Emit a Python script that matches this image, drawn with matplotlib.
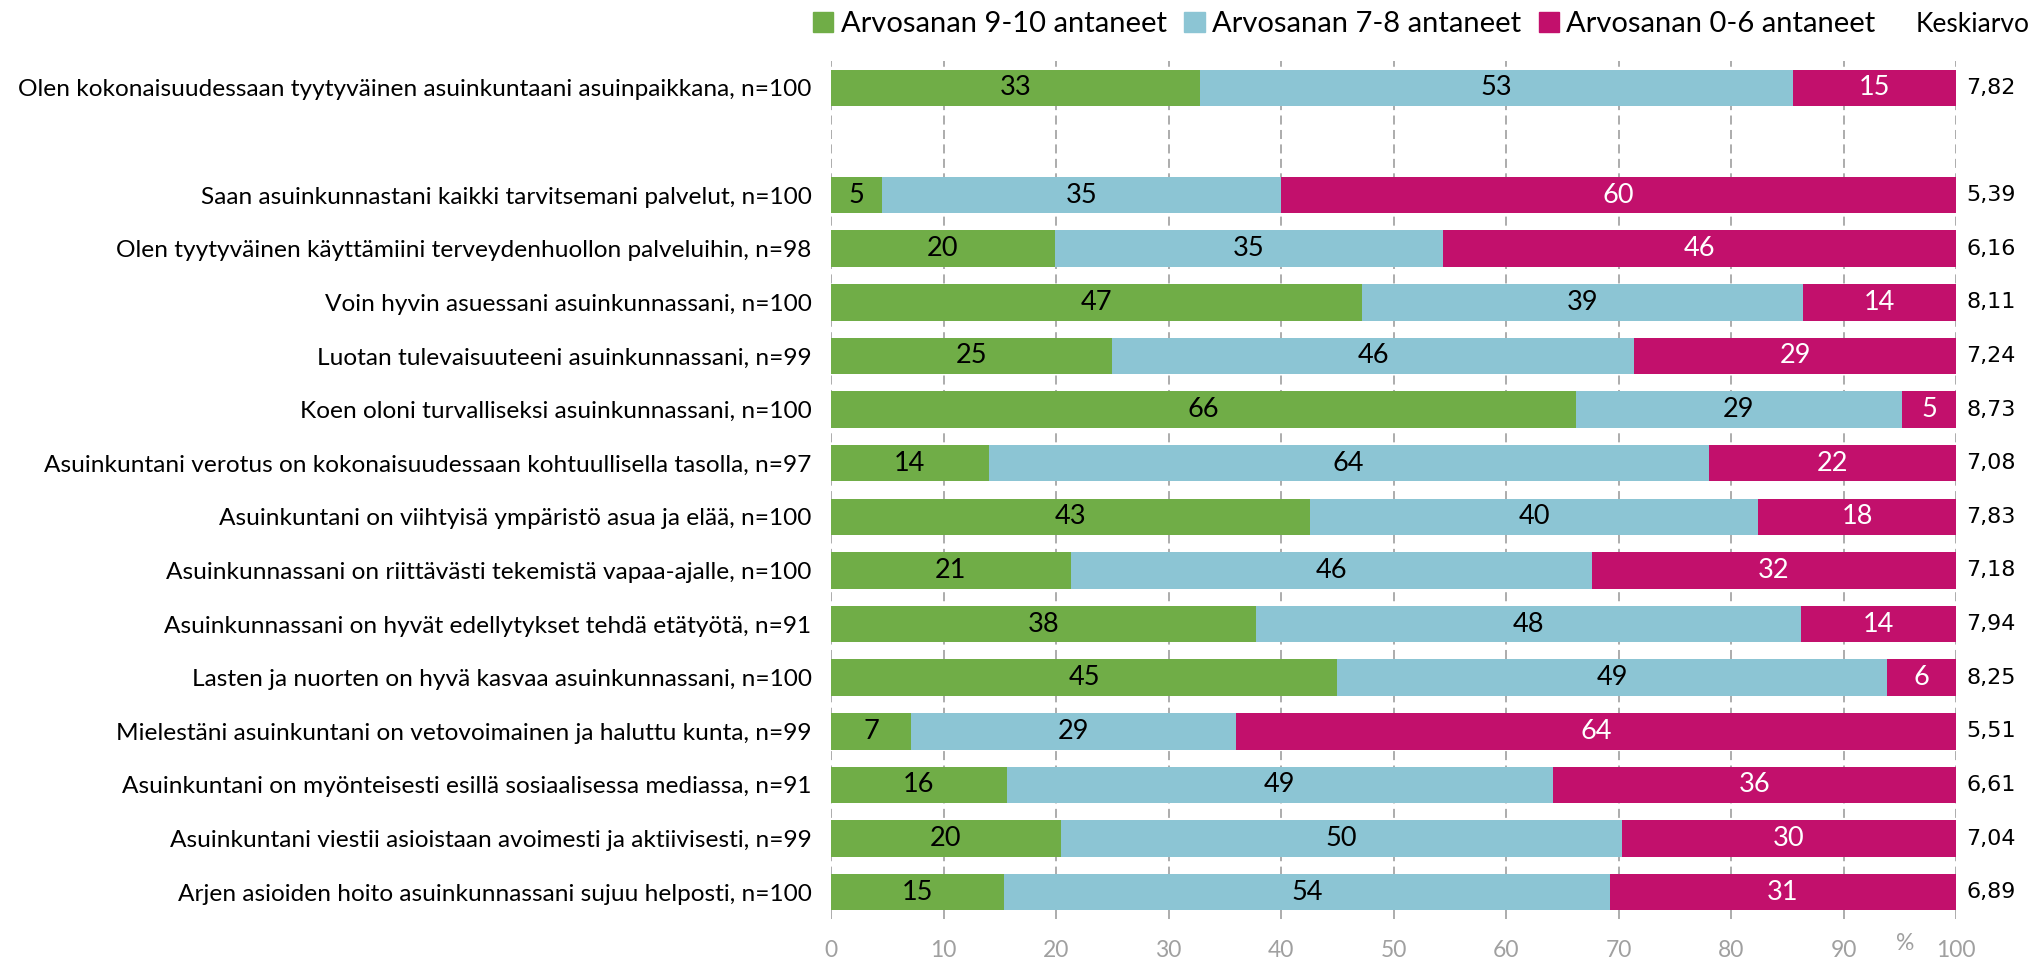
import numpy as np
import matplotlib.pyplot as plt
from matplotlib.patches import Patch

plt.rcParams['font.family'] = ['Lato', 'DejaVu Sans']

# Data (shares in %, shown labels are rounded)
statements = [
    "Olen kokonaisuudessaan tyytyväinen asuinkuntaani asuinpaikkana, n=100",
    "Saan asuinkunnastani kaikki tarvitsemani palvelut, n=100",
    "Olen tyytyväinen käyttämiini terveydenhuollon palveluihin, n=98",
    "Voin hyvin asuessani asuinkunnassani, n=100",
    "Luotan tulevaisuuteeni asuinkunnassani, n=99",
    "Koen oloni turvalliseksi asuinkunnassani, n=100",
    "Asuinkuntani verotus on kokonaisuudessaan kohtuullisella tasolla, n=97",
    "Asuinkuntani on viihtyisä ympäristö asua ja elää, n=100",
    "Asuinkunnassani on riittävästi tekemistä vapaa-ajalle, n=100",
    "Asuinkunnassani on hyvät edellytykset tehdä etätyötä, n=91",
    "Lasten ja nuorten on hyvä kasvaa asuinkunnassani, n=100",
    "Mielestäni asuinkuntani on vetovoimainen ja haluttu kunta, n=99",
    "Asuinkuntani on myönteisesti esillä sosiaalisessa mediassa, n=91",
    "Asuinkuntani viestii asioistaan avoimesti ja aktiivisesti, n=99",
    "Arjen asioiden hoito asuinkunnassani sujuu helposti, n=100",
]
share_9_10 = [32.8, 4.5, 19.9, 47.2, 25.0, 66.2, 14.0, 42.6, 21.3, 37.8, 45.0, 7.1, 15.6, 20.4, 15.4]
share_7_8 = [52.7, 35.5, 34.5, 39.2, 46.4, 29.0, 64.0, 39.8, 46.3, 48.4, 48.9, 28.9, 48.6, 49.9, 53.8]
share_0_6 = [14.5, 60.0, 45.6, 13.6, 28.6, 4.8, 22.0, 17.6, 32.4, 13.8, 6.1, 64.0, 35.8, 29.7, 30.8]
label_9_10 = [33, 5, 20, 47, 25, 66, 14, 43, 21, 38, 45, 7, 16, 20, 15]
label_7_8 = [53, 35, 35, 39, 46, 29, 64, 40, 46, 48, 49, 29, 49, 50, 54]
label_0_6 = [15, 60, 46, 14, 29, 5, 22, 18, 32, 14, 6, 64, 36, 30, 31]
averages = [7.82, 5.39, 6.16, 8.11, 7.24, 8.73, 7.08, 7.83, 7.18, 7.94, 8.25, 5.51, 6.61, 7.04, 6.89]
series_names = ["Arvosanan 9-10 antaneet", "Arvosanan 7-8 antaneet", "Arvosanan 0-6 antaneet"]
xticks = [0, 10, 20, 30, 40, 50, 60, 70, 80, 90, 100]

GREEN = "#70AD47"
BLUE = "#8CC5D4"
MAGENTA = "#C2106C"
GRID = "#A6A6A6"
TICK = "#A0A0A0"

# first row stands apart, one empty slot after it
ypos = np.array([0] + list(range(2, 16)))

fig = plt.figure(figsize=(20.44, 9.63), dpi=100)
ax = fig.add_axes([831 / 2044, 1 - 919 / 963, 1125 / 2044, (919 - 61) / 963])

g = np.array(share_9_10)
b = np.array(share_7_8)
r = np.array(share_0_6)
h = 0.68
ax.barh(ypos, g, height=h, color=GREEN, zorder=2)
ax.barh(ypos, b, left=g, height=h, color=BLUE, zorder=2)
ax.barh(ypos, r, left=g + b, height=h, color=MAGENTA, zorder=2)

for y, gv, bv, rv, gl, bl, rl in zip(ypos, g, b, r, label_9_10, label_7_8, label_0_6):
    ax.text(gv / 2, y, str(gl), ha="center", va="center", fontsize=19.5, color="black", zorder=3)
    ax.text(gv + bv / 2, y, str(bl), ha="center", va="center", fontsize=19.5, color="black", zorder=3)
    ax.text(gv + bv + rv / 2, y, str(rl), ha="center", va="center", fontsize=19.5, color="white", zorder=3)

# average grade column on the right
for y, a in zip(ypos, averages):
    ax.text(1.009, y, f"{a:.2f}".replace(".", ","), transform=ax.get_yaxis_transform(),
            ha="left", va="center", fontsize=16, family="DejaVu Sans", color="black")

ax.set_xlim(0, 100)
ax.set_ylim(15.5, -0.5)
ax.set_xticks(xticks)
ax.set_xticklabels([str(t) for t in xticks], fontsize=16.5, color=TICK)
ax.set_yticks(ypos)
ax.set_yticklabels(statements, fontsize=17.6)
ax.tick_params(axis="both", length=0)
ax.tick_params(axis="y", pad=14)
ax.tick_params(axis="x", pad=15)
for s in ax.spines.values():
    s.set_visible(False)
ax.xaxis.grid(True, color=GRID, linestyle=(0, (5, 3)), linewidth=1.3, zorder=1)
ax.set_axisbelow(True)

ax.text(95.5, -0.016, "%", transform=ax.get_xaxis_transform(), ha="center", va="top",
        fontsize=16.5, color=TICK)

handles = [Patch(color=c) for c in (GREEN, BLUE, MAGENTA)]
fig.legend(handles, series_names, loc="center left", bbox_to_anchor=(813 / 2044, 1 - 24 / 963),
           ncol=3, frameon=False, fontsize=21, handlelength=0.7, handleheight=0.7,
           handletextpad=0.25, columnspacing=0.6, borderpad=0, borderaxespad=0)
fig.text(1916 / 2044, 1 - 24 / 963, "Keskiarvo", ha="left", va="center", fontsize=19)

fig.savefig("out.png", dpi=100)
